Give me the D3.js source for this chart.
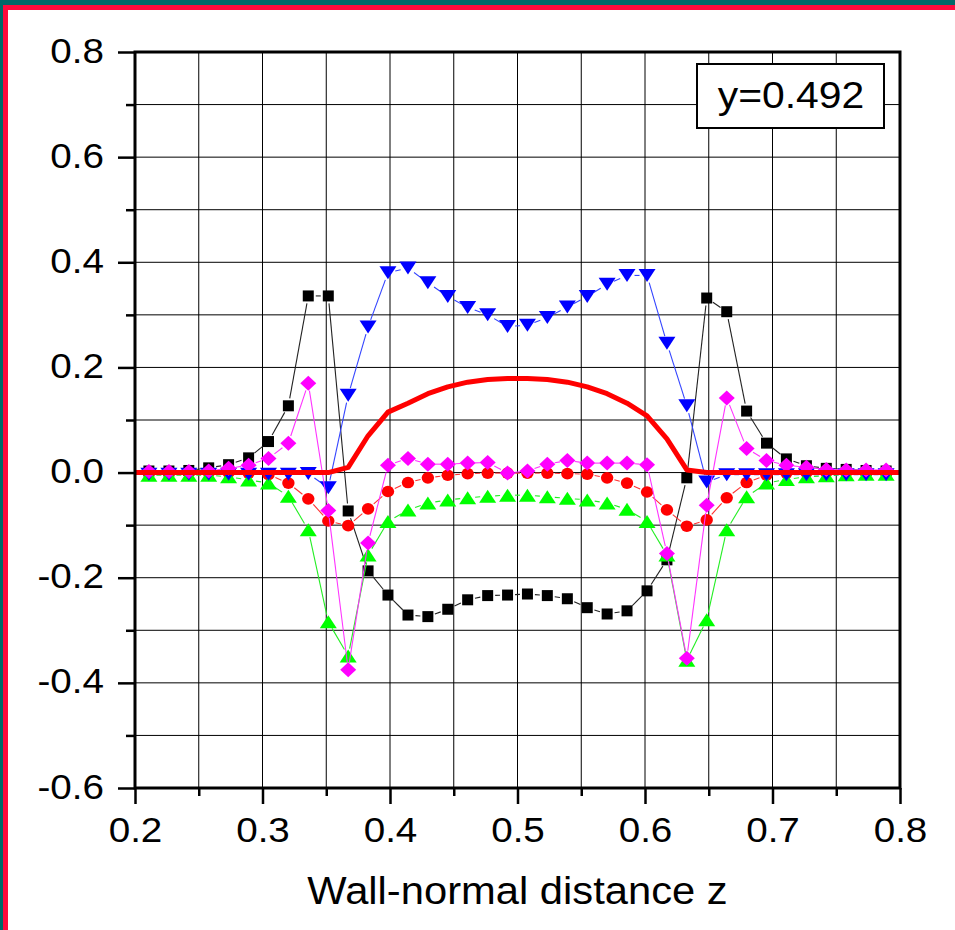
<!DOCTYPE html>
<html>
<head>
<meta charset="utf-8">
<script src="https://cdn.jsdelivr.net/npm/d3@7"></script>
<style>
  html, body { margin: 0; padding: 0; background: #ffffff; }
  svg { display: block; }
  text { font-family: "Liberation Sans", Arial, sans-serif; fill: #000; }
</style>
</head>
<body>
<svg id="chart" width="955" height="930"></svg>
<script>
// Sample positions across the channel (wall-normal distance z)
const zValues = [0.2109, 0.2266, 0.2422, 0.2578, 0.2734, 0.2891, 0.3047, 0.3203, 0.3359, 0.3516,
                 0.3672, 0.3828, 0.3984, 0.4141, 0.4297, 0.4453, 0.4609, 0.4766, 0.4922, 0.5078,
                 0.5234, 0.5391, 0.5547, 0.5703, 0.5859, 0.6016, 0.6172, 0.6328, 0.6484, 0.6641,
                 0.6797, 0.6953, 0.7109, 0.7266, 0.7422, 0.7578, 0.7734, 0.7891];

const squareValues = [0.003, 0.003, 0.004, 0.009, 0.015, 0.028, 0.059, 0.127, 0.336, 0.336,
                      -0.073, -0.187, -0.233, -0.271, -0.274, -0.260, -0.242, -0.234, -0.233, -0.231,
                      -0.234, -0.240, -0.257, -0.269, -0.263, -0.225, -0.166, -0.010, 0.332, 0.306,
                      0.117, 0.056, 0.026, 0.013, 0.008, 0.006, 0.004, 0.003];

const circleValues = [0, 0, 0, 0, 0, -0.001, -0.004, -0.020, -0.050, -0.092,
                      -0.101, -0.069, -0.036, -0.019, -0.010, -0.005, -0.002, -0.001, -0.001, -0.001,
                      -0.001, -0.002, -0.003, -0.010, -0.020, -0.037, -0.071, -0.102, -0.090, -0.048,
                      -0.019, -0.005, -0.001, 0, 0, 0, 0, 0];

const upTriangleValues = [-0.005, -0.005, -0.005, -0.005, -0.008, -0.014, -0.020, -0.045, -0.109, -0.284,
                          -0.349, -0.157, -0.093, -0.071, -0.058, -0.052, -0.048, -0.045, -0.043, -0.043,
                          -0.046, -0.049, -0.052, -0.058, -0.070, -0.093, -0.157, -0.357, -0.280, -0.109,
                          -0.046, -0.020, -0.013, -0.008, -0.006, -0.004, -0.003, -0.003];

const downTriangleValues = [-0.003, -0.003, -0.003, -0.003, -0.003, -0.003, -0.003, -0.003, -0.002, -0.029,
                            0.147, 0.277, 0.380, 0.389, 0.361, 0.335, 0.314, 0.300, 0.278, 0.280,
                            0.295, 0.315, 0.335, 0.358, 0.375, 0.375, 0.246, 0.127, -0.018, -0.004,
                            -0.004, -0.004, -0.004, -0.004, -0.004, -0.004, -0.004, -0.004];

const diamondValues = [0.002, 0.002, 0.002, 0.003, 0.008, 0.014, 0.027, 0.056, 0.170, -0.072,
                       -0.375, -0.134, 0.014, 0.027, 0.016, 0.016, 0.018, 0.019, -0.001, 0.003,
                       0.016, 0.023, 0.018, 0.018, 0.018, 0.015, -0.154, -0.353, -0.062, 0.142,
                       0.046, 0.023, 0.014, 0.010, 0.006, 0.005, 0.005, 0.005];

// Solid profile curve (runs across the whole axis range)
const profileZ = [0.2, 0.2109, 0.2266, 0.2422, 0.2578, 0.2734, 0.2891, 0.3047, 0.3203, 0.3359, 0.3516,
                  0.3672, 0.3828, 0.3984, 0.4141, 0.4297, 0.4453, 0.4609, 0.4766, 0.4922, 0.5078,
                  0.5234, 0.5391, 0.5547, 0.5703, 0.5859, 0.6016, 0.6172, 0.6328, 0.6484, 0.6641,
                  0.6797, 0.6953, 0.7109, 0.7266, 0.7422, 0.7578, 0.7734, 0.7891, 0.8];
const profileValues = [0, 0, 0, 0, 0, 0, 0, 0, 0, 0, 0,
                       0.010, 0.070, 0.115, 0.132, 0.150, 0.163, 0.172, 0.177, 0.179, 0.179,
                       0.177, 0.172, 0.163, 0.150, 0.132, 0.108, 0.064, 0.005, 0, 0,
                       0, 0, 0, 0, 0, 0, 0, 0, 0];

const xMajorTicks = [0.2, 0.3, 0.4, 0.5, 0.6, 0.7, 0.8];
const xMinorTicks = [0.25, 0.35, 0.45, 0.55, 0.65, 0.75];
const yMajorTicks = [-0.6, -0.4, -0.2, 0.0, 0.2, 0.4, 0.6, 0.8];
const yMinorTicks = [-0.5, -0.3, -0.1, 0.1, 0.3, 0.5, 0.7];
const xGridLines = [0.25, 0.3, 0.35, 0.4, 0.45, 0.5, 0.55, 0.6, 0.65, 0.7, 0.75];
const yGridLines = [-0.5, -0.4, -0.3, -0.2, -0.1, 0.0, 0.1, 0.2, 0.3, 0.4, 0.5, 0.6, 0.7];

const xTitle = "Wall-normal distance z";
const legendText = "y=0.492";

const svg = d3.select("#chart");
const W = 955, H = 930;
const plot = { left: 135, right: 900, top: 52, bottom: 788 };

const x = d3.scaleLinear().domain([0.2, 0.8]).range([plot.left, plot.right]);
const y = d3.scaleLinear().domain([-0.6, 0.8]).range([plot.bottom, plot.top]);

// page frame
svg.append("rect").attr("x", 0).attr("y", 0).attr("width", W).attr("height", H).attr("fill", "#ffffff");
svg.append("rect").attr("x", 0).attr("y", 0).attr("width", W).attr("height", 10).attr("fill", "#ff0a3c");
svg.append("rect").attr("x", 0).attr("y", 0).attr("width", 8).attr("height", H).attr("fill", "#ff0a3c");
svg.append("rect").attr("x", 0).attr("y", 0).attr("width", W).attr("height", 5).attr("fill", "#006868");
svg.append("rect").attr("x", 0).attr("y", 0).attr("width", 3).attr("height", H).attr("fill", "#006868");

svg.append("defs").append("clipPath").attr("id", "plotClip")
  .append("rect").attr("x", plot.left).attr("y", plot.top)
  .attr("width", plot.right - plot.left).attr("height", plot.bottom - plot.top);

// grid
const grid = svg.append("g").attr("stroke", "#000").attr("stroke-width", 1);
grid.selectAll("line.vx").data(xGridLines).join("line").attr("class", "vx")
  .attr("x1", d => x(d)).attr("x2", d => x(d)).attr("y1", plot.top).attr("y2", plot.bottom);
grid.selectAll("line.hy").data(yGridLines).join("line").attr("class", "hy")
  .attr("y1", d => y(d)).attr("y2", d => y(d)).attr("x1", plot.left).attr("x2", plot.right);

// axes (plain hyphen for negative numbers)
const fmt = d => d3.format(".1f")(d).replace("\u2212", "-");
const axisFont = 34.5, axisStretch = 1.12;

const xAxisG = svg.append("g").attr("transform", `translate(0,${plot.bottom})`);
xAxisG.append("g").call(d3.axisBottom(x).tickValues(xMinorTicks).tickSize(8).tickFormat(""));
xAxisG.append("g").call(d3.axisBottom(x).tickValues(xMajorTicks).tickSize(16).tickFormat(fmt));
xAxisG.selectAll(".domain").remove();
xAxisG.selectAll(".tick line").attr("stroke", "#000").attr("stroke-width", 2.5);
xAxisG.selectAll(".tick text")
  .attr("x", 0).attr("y", 0).attr("dy", null)
  .attr("text-anchor", "middle")
  .attr("transform", `translate(0,54) scale(${axisStretch},1)`)
  .style("font-size", axisFont + "px");

const yAxisG = svg.append("g").attr("transform", `translate(${plot.left},0)`);
yAxisG.append("g").call(d3.axisLeft(y).tickValues(yMinorTicks).tickSize(9).tickFormat(""));
yAxisG.append("g").call(d3.axisLeft(y).tickValues(yMajorTicks).tickSize(17).tickFormat(fmt));
yAxisG.selectAll(".domain").remove();
yAxisG.selectAll(".tick line").attr("stroke", "#000").attr("stroke-width", 2.5);
yAxisG.selectAll(".tick text")
  .attr("x", 0).attr("y", 0).attr("dy", null)
  .attr("text-anchor", "end")
  .attr("transform", `translate(-31,10) scale(${axisStretch},1)`)
  .style("font-size", axisFont + "px");

// axis title
svg.append("text")
  .attr("transform", `translate(${(plot.left + plot.right) / 2},904) scale(1.07,1)`)
  .attr("text-anchor", "middle")
  .style("font-size", "39px")
  .text(xTitle);

// marker shapes, centred on their bounding box
const markerPath = {
  square: "M-5.5,-5.5H5.5V5.5H-5.5Z",
  up: "M0,-6.5L8.5,6.5L-8.5,6.5Z",
  down: "M0,6.5L8.5,-6.5L-8.5,-6.5Z",
  diamond: "M0,-7.5L8,0L0,7.5L-8,0Z"
};

const series = [
  { values: squareValues, color: "#000000", line: "#222222", shape: "square" },
  { values: circleValues, color: "#ff0000", line: "#ff3030", shape: "circle" },
  { values: upTriangleValues, color: "#00ff00", line: "#22ee22", shape: "up" },
  { values: downTriangleValues, color: "#0000ff", line: "#3344ff", shape: "down" },
  { values: diamondValues, color: "#ff00ff", line: "#ff33ff", shape: "diamond" }
];

// connecting lines stop short of each symbol
function gappedSegments(pts, gap) {
  const segs = [];
  for (let k = 0; k < pts.length - 1; k++) {
    const [x1, y1] = pts[k], [x2, y2] = pts[k + 1];
    const dx = x2 - x1, dy = y2 - y1, L = Math.hypot(dx, dy);
    if (L <= 2 * gap + 1) continue;
    const ux = dx / L, uy = dy / L;
    segs.push([x1 + ux * gap, y1 + uy * gap, x2 - ux * gap, y2 - uy * gap]);
  }
  return segs;
}

const dataLayer = svg.append("g").attr("clip-path", "url(#plotClip)");

series.forEach(s => {
  const pts = zValues.map((z, i) => [x(z), y(s.values[i])]);
  const g = dataLayer.append("g");
  g.selectAll("line").data(gappedSegments(pts, 7.5)).join("line")
    .attr("x1", d => d[0]).attr("y1", d => d[1]).attr("x2", d => d[2]).attr("y2", d => d[3])
    .attr("stroke", s.line).attr("stroke-width", 1.1);
  if (s.shape === "circle") {
    g.selectAll("ellipse").data(pts).join("ellipse")
      .attr("cx", d => d[0]).attr("cy", d => d[1]).attr("rx", 6.2).attr("ry", 5.8)
      .attr("fill", s.color);
  } else {
    g.selectAll("path").data(pts).join("path")
      .attr("transform", d => `translate(${d[0]},${d[1]})`)
      .attr("d", markerPath[s.shape])
      .attr("fill", s.color);
  }
});

// thick profile curve
const profileLine = d3.line().x((d, i) => x(profileZ[i])).y(d => y(d));
dataLayer.append("path")
  .datum(profileValues)
  .attr("d", profileLine)
  .attr("fill", "none")
  .attr("stroke", "#ff0000")
  .attr("stroke-width", 5)
  .attr("stroke-linejoin", "round");

// plot frame
svg.append("rect")
  .attr("x", plot.left).attr("y", plot.top)
  .attr("width", plot.right - plot.left).attr("height", plot.bottom - plot.top)
  .attr("fill", "none").attr("stroke", "#000").attr("stroke-width", 3);

// legend label box
const legend = svg.append("g");
legend.append("rect")
  .attr("x", 697).attr("y", 64).attr("width", 187).attr("height", 64)
  .attr("fill", "#ffffff").attr("stroke", "#000").attr("stroke-width", 2);
legend.append("text")
  .attr("transform", "translate(791,108) scale(1.09,1)")
  .attr("text-anchor", "middle")
  .style("font-size", "37.5px")
  .text(legendText);
</script>
</body>
</html>
